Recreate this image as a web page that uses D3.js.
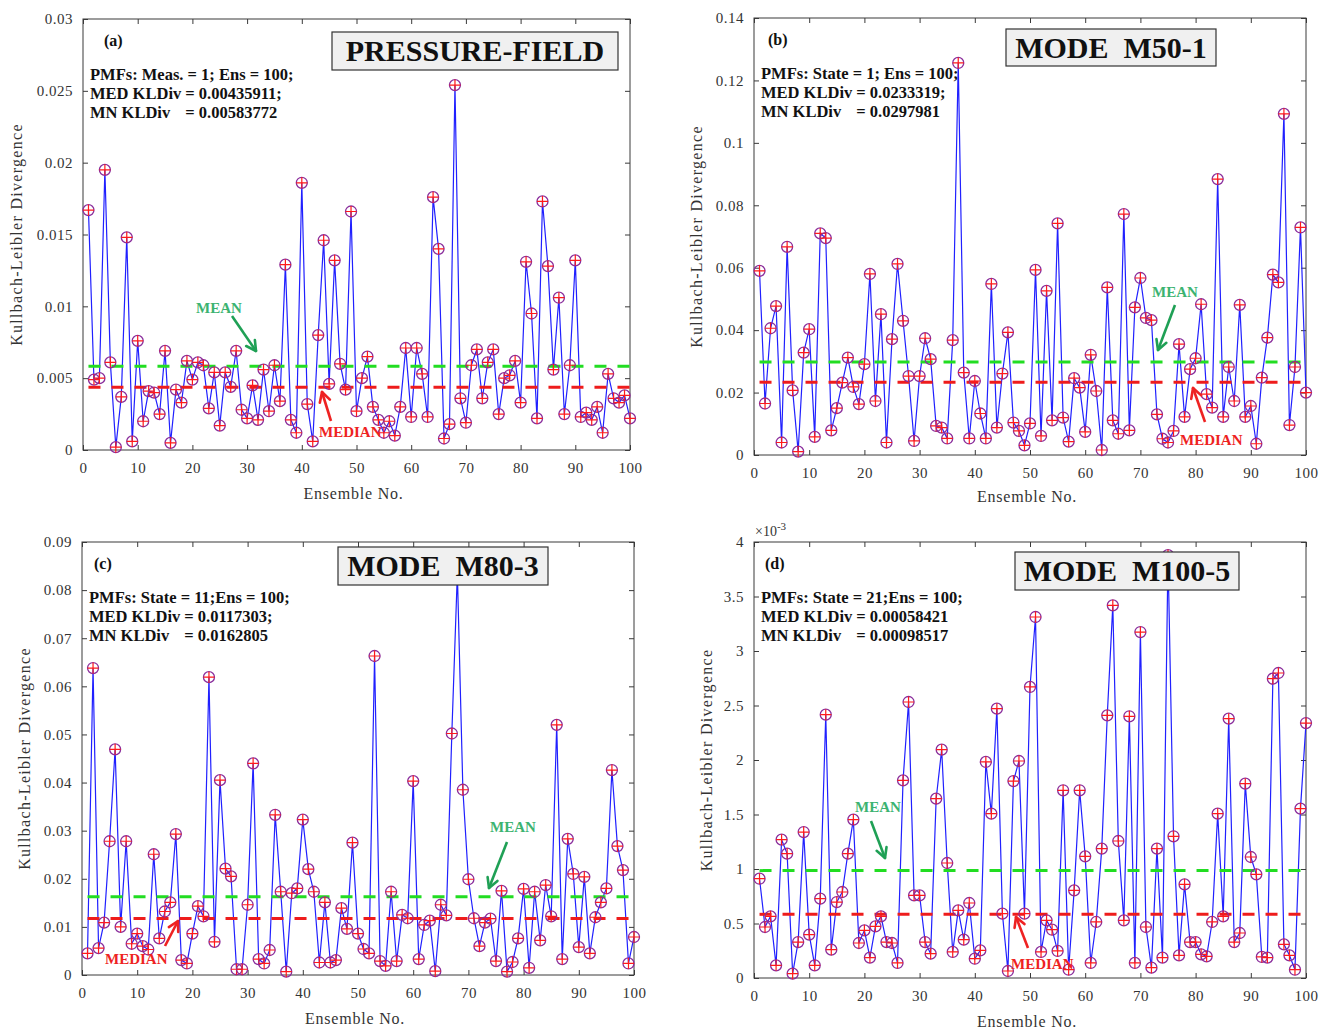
<!DOCTYPE html>
<html>
<head>
<meta charset="utf-8">
<script src="https://cdn.jsdelivr.net/npm/d3@7"></script>
<style>
  body { margin: 0; background: #fff; }
  svg { display: block; font-family: "Liberation Serif", "DejaVu Serif", serif; }
</style>
</head>
<body>
<svg id="chart" width="1320" height="1031"></svg>
<script>
// ensemble member index (x axis categories)
const ensembleNo = d3.range(1, 101);
const xTicks = [0, 10, 20, 30, 40, 50, 60, 70, 80, 90, 100];

// (a) pressure field KL divergence
const kldPressure = [
  0.0167, 0.0049, 0.0050, 0.0195, 0.0061, 0.0002, 0.0037, 0.0148, 0.0006, 0.0076,
  0.0020, 0.0041, 0.0040, 0.0025, 0.0069, 0.0005, 0.0042, 0.0033, 0.0062, 0.0049,
  0.0061, 0.0059, 0.0029, 0.0054, 0.0017, 0.0054, 0.0044, 0.0069, 0.0028, 0.0022,
  0.0045, 0.0021, 0.0056, 0.0027, 0.0059, 0.0034, 0.0129, 0.0021, 0.0012, 0.0186,
  0.0032, 0.0006, 0.0080, 0.0146, 0.0046, 0.0132, 0.0060, 0.0042, 0.0166, 0.0027,
  0.0050, 0.0065, 0.0030, 0.0021, 0.0012, 0.0020, 0.0010, 0.0030, 0.0071, 0.0023,
  0.0071, 0.0053, 0.0023, 0.0176, 0.0140, 0.0008, 0.0018, 0.0254, 0.0036, 0.0019,
  0.0059, 0.0070, 0.0036, 0.0061, 0.0070, 0.0025, 0.0050, 0.0052, 0.0062, 0.0033,
  0.0131, 0.0095, 0.0022, 0.0173, 0.0128, 0.0056, 0.0106, 0.0025, 0.0059, 0.0132,
  0.0023, 0.0026, 0.0021, 0.0030, 0.0012, 0.0053, 0.0036, 0.0033, 0.0038, 0.0022
];
// (b) mode M50-1
const kldM50 = [
  0.0590, 0.0165, 0.0406, 0.0477, 0.0040, 0.0667, 0.0207, 0.0011, 0.0328, 0.0403,
  0.0058, 0.0710, 0.0695, 0.0079, 0.0150, 0.0232, 0.0312, 0.0218, 0.0163, 0.0291,
  0.0580, 0.0173, 0.0451, 0.0040, 0.0371, 0.0612, 0.0430, 0.0253, 0.0045, 0.0253,
  0.0374, 0.0307, 0.0093, 0.0088, 0.0053, 0.0368, 0.1256, 0.0264, 0.0053, 0.0237,
  0.0133, 0.0053, 0.0548, 0.0088, 0.0261, 0.0393, 0.0104, 0.0077, 0.0031, 0.0101,
  0.0593, 0.0061, 0.0526, 0.0111, 0.0742, 0.0120, 0.0043, 0.0246, 0.0216, 0.0074,
  0.0321, 0.0205, 0.0016, 0.0537, 0.0111, 0.0068, 0.0772, 0.0079, 0.0473, 0.0567,
  0.0439, 0.0432, 0.0130, 0.0052, 0.0040, 0.0077, 0.0355, 0.0122, 0.0275, 0.0310,
  0.0483, 0.0195, 0.0152, 0.0884, 0.0122, 0.0282, 0.0173, 0.0481, 0.0122, 0.0157,
  0.0036, 0.0248, 0.0376, 0.0578, 0.0553, 0.1093, 0.0096, 0.0282, 0.0729, 0.0200
];
// (c) mode M80-3
const kldM80 = [
  0.0045, 0.0638, 0.0056, 0.0109, 0.0278, 0.0469, 0.0100, 0.0278, 0.0065, 0.0086,
  0.0060, 0.0053, 0.0251, 0.0076, 0.0132, 0.0151, 0.0293, 0.0031, 0.0024, 0.0086,
  0.0143, 0.0122, 0.0619, 0.0069, 0.0405, 0.0221, 0.0205, 0.0012, 0.0012, 0.0146,
  0.0440, 0.0033, 0.0024, 0.0052, 0.0333, 0.0173, 0.0007, 0.0170, 0.0180, 0.0323,
  0.0220, 0.0173, 0.0026, 0.0151, 0.0026, 0.0031, 0.0139, 0.0096, 0.0275, 0.0086,
  0.0054, 0.0045, 0.0663, 0.0029, 0.0019, 0.0173, 0.0029, 0.0125, 0.0118, 0.0403,
  0.0033, 0.0104, 0.0113, 0.0008, 0.0146, 0.0124, 0.0502, 0.0835, 0.0385, 0.0199,
  0.0118, 0.0060, 0.0109, 0.0117, 0.0029, 0.0175, 0.0007, 0.0027, 0.0076, 0.0179,
  0.0015, 0.0173, 0.0072, 0.0187, 0.0122, 0.0520, 0.0033, 0.0283, 0.0210, 0.0058,
  0.0204, 0.0045, 0.0120, 0.0151, 0.0180, 0.0426, 0.0268, 0.0218, 0.0024, 0.0079
];
// (d) mode M100-5, in units of 1e-3
const kldM100 = [
  0.911, 0.468, 0.566, 0.116, 1.269, 1.141, 0.040, 0.330, 1.339, 0.398,
  0.116, 0.728, 2.416, 0.260, 0.697, 0.789, 1.141, 1.453, 0.321, 0.437,
  0.187, 0.474, 0.566, 0.330, 0.321, 0.138, 1.813, 2.532, 0.758, 0.758,
  0.330, 0.223, 1.645, 2.095, 1.055, 0.239, 0.621, 0.352, 0.688, 0.177,
  0.254, 1.982, 1.508, 2.471, 0.590, 0.064, 1.807, 1.991, 0.590, 2.670,
  3.312, 0.239, 0.529, 0.443, 0.248, 1.722, 0.076, 0.804, 1.722, 1.116,
  0.138, 0.514, 1.187, 2.410, 3.419, 1.257, 0.529, 2.401, 0.138, 3.174,
  0.468, 0.095, 1.187, 0.187, 3.880, 1.300, 0.208, 0.859, 0.330, 0.330,
  0.217, 0.199, 0.514, 1.508, 0.566, 2.379, 0.330, 0.413, 1.783, 1.110,
  0.951, 0.193, 0.187, 2.746, 2.798, 0.309, 0.208, 0.076, 1.554, 2.339
];

const yTicksA = [0, 0.005, 0.01, 0.015, 0.02, 0.025, 0.03];
const yTicksB = [0, 0.02, 0.04, 0.06, 0.08, 0.1, 0.12, 0.14];
const yTicksC = [0, 0.01, 0.02, 0.03, 0.04, 0.05, 0.06, 0.07, 0.08, 0.09];
const yTicksD = [0, 0.5, 1, 1.5, 2, 2.5, 3, 3.5, 4];

const medians = [0.00435911, 0.0233319, 0.0117303, 0.58421];
const means = [0.00583772, 0.0297981, 0.0162805, 0.98517];

const svg = d3.select("#chart");

const panels = [
  {
    tag: "(a)", tagX: 21, title: "PRESSURE-FIELD", data: kldPressure, yTicks: yTicksA, med: medians[0], mean: means[0],
    left: 83, right: 630, top: 19, bottom: 450,
    stats: ["PMFs: Meas. = 1; Ens = 100;", "MED KLDiv = 0.00435911;", "0.00583772"],
    box: [249, 13, 286, 38],
    meanTxt: [113, 294], meanArrow: [149, 297, 173, 332],
    medTxt: [236, 418], medArrow: [248, 402, 239, 373],
    yLabelX: 22, xLabelY: 499
  },
  {
    tag: "(b)", tagX: 14, title: "MODE  M50-1", data: kldM50, yTicks: yTicksB, med: medians[1], mean: means[1],
    left: 754, right: 1306, top: 18, bottom: 455,
    stats: ["PMFs: State = 1; Ens = 100;", "MED KLDiv = 0.0233319;", "0.0297981"],
    box: [252, 11, 210, 37],
    meanTxt: [398, 279], meanArrow: [421, 287, 404, 332],
    medTxt: [426, 427], medArrow: [451, 404, 439, 370],
    yLabelX: 702, xLabelY: 502
  },
  {
    tag: "(c)", tagX: 12, title: "MODE  M80-3", data: kldM80, yTicks: yTicksC, med: medians[2], mean: means[2],
    left: 82, right: 634, top: 542, bottom: 975,
    stats: ["PMFs: State = 11;Ens = 100;", "MED KLDiv = 0.0117303;", "0.0162805"],
    box: [256, 5, 210, 38],
    meanTxt: [408, 290], meanArrow: [425, 300, 407, 346],
    medTxt: [23, 422], medArrow: [83, 404, 96, 379],
    yLabelX: 30, xLabelY: 1024
  },
  {
    tag: "(d)", tagX: 11, title: "MODE  M100-5", data: kldM100, yTicks: yTicksD, med: medians[3], mean: means[3],
    left: 754, right: 1306, top: 542, bottom: 978,
    stats: ["PMFs: State = 21;Ens = 100;", "MED KLDiv = 0.00058421", "0.00098517"],
    box: [261, 10, 224, 38],
    meanTxt: [101, 270], meanArrow: [117, 279, 131, 316],
    medTxt: [257, 427], medArrow: [274, 406, 262, 375],
    yLabelX: 712, xLabelY: 1027, exponent: true
  }
];

function arrow(g, x1, y1, x2, y2, color) {
  const ang = Math.atan2(y2 - y1, x2 - x1);
  const head = 11;
  g.append("line")
    .attr("x1", x1).attr("y1", y1).attr("x2", x2).attr("y2", y2)
    .attr("stroke", color).attr("stroke-width", 2.6);
  [-0.5, 0.5].forEach(da => {
    g.append("line")
      .attr("x1", x2).attr("y1", y2)
      .attr("x2", x2 - head * Math.cos(ang + da))
      .attr("y2", y2 - head * Math.sin(ang + da))
      .attr("stroke", color).attr("stroke-width", 2.6)
      .attr("stroke-linecap", "round");
  });
}

function drawPanel(p) {
  const g = svg.append("g");
  const x = d3.scaleLinear().domain([0, 100]).range([p.left, p.right]);
  const y = d3.scaleLinear().domain([0, d3.max(p.yTicks)]).range([p.bottom, p.top]);
  const fmt = d => String(+d.toFixed(4));

  // frame
  g.append("rect")
    .attr("x", p.left).attr("y", p.top)
    .attr("width", p.right - p.left).attr("height", p.bottom - p.top)
    .attr("fill", "#fff").attr("stroke", "#3a3a3a").attr("stroke-width", 1);

  // axes with inward ticks on all four sides
  const styleAxis = sel => {
    sel.select(".domain").remove();
    sel.selectAll(".tick line").attr("stroke", "#3a3a3a");
    sel.selectAll(".tick text")
      .attr("fill", "#333")
      .style("font-size", "15px")
      .style("font-family", "Liberation Serif, serif")
      .style("letter-spacing", "0.5px");
  };
  g.append("g").attr("transform", `translate(0,${p.bottom})`)
    .call(d3.axisBottom(x).tickValues(xTicks).tickSize(-5).tickPadding(12).tickFormat(fmt))
    .call(styleAxis);
  g.append("g").attr("transform", `translate(0,${p.top})`)
    .call(d3.axisTop(x).tickValues(xTicks).tickSize(-5).tickFormat(""))
    .call(styleAxis);
  g.append("g").attr("transform", `translate(${p.left},0)`)
    .call(d3.axisLeft(y).tickValues(p.yTicks).tickSize(-5).tickPadding(10).tickFormat(fmt))
    .call(styleAxis);
  g.append("g").attr("transform", `translate(${p.right},0)`)
    .call(d3.axisRight(y).tickValues(p.yTicks).tickSize(-5).tickFormat(""))
    .call(styleAxis);

  if (p.exponent) {
    const ex = g.append("text").attr("x", p.left + 1).attr("y", p.top - 6)
      .attr("fill", "#333").style("font-size", "14px");
    ex.append("tspan").text("×10");
    ex.append("tspan").attr("dy", -6).style("font-size", "11px").text("-3");
  }

  // series line and markers
  const line = d3.line()
    .x((d, i) => x(ensembleNo[i]))
    .y(d => y(d));
  g.append("path").datum(p.data)
    .attr("d", line)
    .attr("fill", "none")
    .attr("stroke", "#2020ff")
    .attr("stroke-width", 1.2);

  // mean and median lines
  [[p.mean, "#22dd22"], [p.med, "#ee1c1c"]].forEach(([v, c]) => {
    g.append("line")
      .attr("x1", x(1)).attr("x2", x(100))
      .attr("y1", y(v)).attr("y2", y(v))
      .attr("stroke", c).attr("stroke-width", 3)
      .attr("stroke-dasharray", "12,11");
  });

  const pts = g.append("g").selectAll("g").data(p.data).join("g")
    .attr("transform", (d, i) => `translate(${x(ensembleNo[i])},${y(d)})`);
  pts.append("circle").attr("r", 5.5)
    .attr("fill", "none").attr("stroke", "#8a2d9c").attr("stroke-width", 1.3);
  pts.append("path").attr("d", "M-5.5,0H5.5M0,-5.5V5.5")
    .attr("stroke", "#ff1a1a").attr("stroke-width", 1.2);

  // title box
  const [bx, by, bw, bh] = p.box;
  g.append("rect")
    .attr("x", p.left + bx).attr("y", p.top + by)
    .attr("width", bw).attr("height", bh)
    .attr("fill", "#f0f0f0").attr("stroke", "#333").attr("stroke-width", 1.2);
  g.append("text")
    .attr("x", p.left + bx + bw / 2).attr("y", p.top + by + bh / 2 + 10)
    .attr("text-anchor", "middle")
    .style("white-space", "pre")
    .style("font-size", "30px").style("font-weight", "bold")
    .attr("fill", "#111")
    .text(p.title);

  // panel tag and stats
  g.append("text").attr("x", p.left + p.tagX).attr("y", p.top + 27)
    .style("font-size", "16px").style("font-weight", "bold").attr("fill", "#111")
    .text(p.tag);
  const sx = p.left + 7;
  const statStyle = sel => sel.style("font-size", "16.5px").style("font-weight", "bold")
    .attr("fill", "#111").style("white-space", "pre");
  g.append("text").attr("x", sx).attr("y", p.top + 61).call(statStyle).text(p.stats[0]);
  g.append("text").attr("x", sx).attr("y", p.top + 80).call(statStyle).text(p.stats[1]);
  // measure where "=" sits on the MED line so the MN line lines up with it
  const probe = g.append("text").attr("x", sx).attr("y", -100).call(statStyle).text("MED KLDiv ");
  const eqX = sx + probe.node().getComputedTextLength();
  probe.remove();
  g.append("text").attr("x", sx).attr("y", p.top + 99).call(statStyle).text("MN KLDiv");
  g.append("text").attr("x", eqX).attr("y", p.top + 99).call(statStyle).text("= " + p.stats[2]);

  // MEAN / MEDIAN annotations
  g.append("text").attr("x", p.left + p.meanTxt[0]).attr("y", p.top + p.meanTxt[1])
    .style("font-size", "15px").style("font-weight", "bold").attr("fill", "#3cb371")
    .text("MEAN");
  arrow(g, p.left + p.meanArrow[0], p.top + p.meanArrow[1], p.left + p.meanArrow[2], p.top + p.meanArrow[3], "#1fa055");
  g.append("text").attr("x", p.left + p.medTxt[0]).attr("y", p.top + p.medTxt[1])
    .style("font-size", "15px").style("font-weight", "bold").attr("fill", "#ee2222")
    .text("MEDIAN");
  arrow(g, p.left + p.medArrow[0], p.top + p.medArrow[1], p.left + p.medArrow[2], p.top + p.medArrow[3], "#ee2222");

  // axis labels
  g.append("text")
    .attr("transform", `translate(${p.yLabelX},${(p.top + p.bottom) / 2}) rotate(-90)`)
    .attr("text-anchor", "middle")
    .style("font-size", "16px").style("letter-spacing", "1.3px").attr("fill", "#333")
    .text("Kullbach-Leibler Divergence");
  g.append("text")
    .attr("x", (p.left + p.right) / 2 - 3).attr("y", p.xLabelY)
    .attr("text-anchor", "middle")
    .style("font-size", "16px").style("letter-spacing", "0.8px").attr("fill", "#333")
    .text("Ensemble No.");
}

panels.forEach(drawPanel);
</script>
</body>
</html>
